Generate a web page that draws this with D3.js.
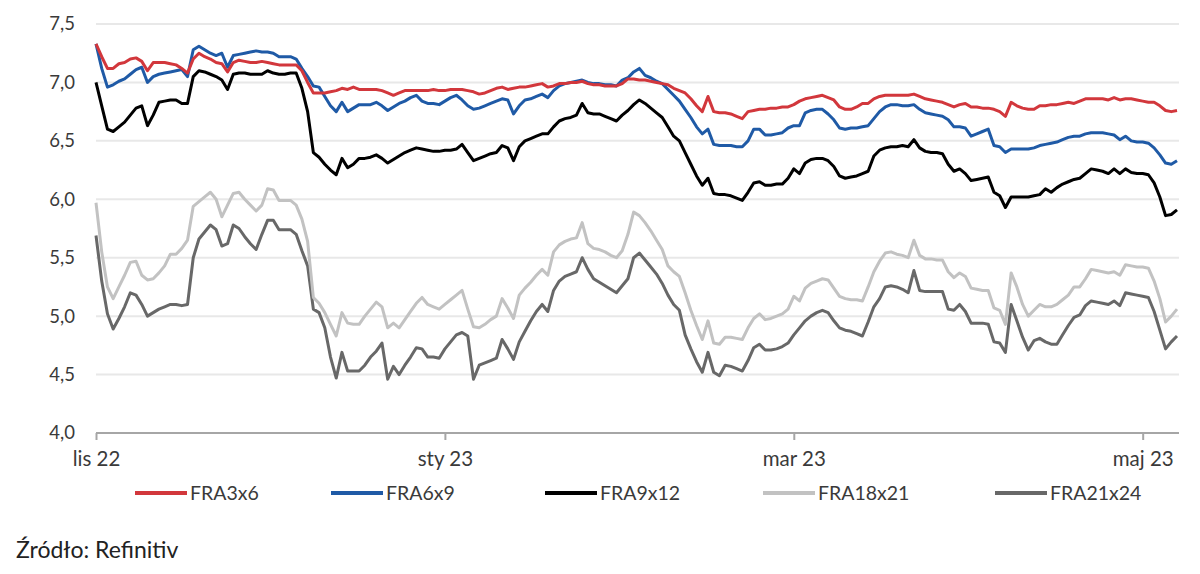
<!DOCTYPE html>
<html>
<head>
<meta charset="utf-8">
<script src="https://cdn.jsdelivr.net/npm/d3@7"></script>
<style>
  html, body { margin: 0; padding: 0; background: #fff; }
  svg { display: block; font-family: Lato, "Open Sans", sans-serif; }
</style>
</head>
<body>
<svg id="chart" width="1200" height="574"></svg>
<script>
// ---- data ----
const startDate = new Date(2022, 10, 1);   // daily categories from 1 Nov 2022
const endDate = new Date(2023, 4, 10);     // through 9 May 2023
const tickLabels = ["lis 22", "sty 23", "mar 23", "maj 23"];
const tickEvery = 61;
const yTicks = [4.0, 4.5, 5.0, 5.5, 6.0, 6.5, 7.0, 7.5];
const seriesNames = ["FRA3x6", "FRA6x9", "FRA9x12", "FRA18x21", "FRA21x24"];

const fra3x6 = [
7.33,7.22,7.12,7.12,7.16,7.17,7.20,7.21,7.18,7.10,7.17,7.17,7.17,7.16,7.15,7.12,7.08,7.20,7.25,7.22,7.20,7.17,7.16,7.09,7.17,7.19,7.18,7.17,7.17,7.18,7.17,7.16,7.15,7.15,7.15,7.15,7.10,7.00,6.91,6.91,6.91,6.92,6.93,6.95,6.94,6.96,6.94,6.94,
6.94,6.94,6.93,6.91,6.89,6.91,6.93,6.93,6.93,6.93,6.93,6.94,6.93,6.93,6.94,6.94,6.94,6.93,6.92,6.90,6.91,6.93,6.95,6.96,6.94,6.95,6.96,6.96,6.97,6.98,6.99,6.96,6.97,6.99,6.99,7.00,7.00,7.01,6.99,6.98,6.98,6.97,6.97,6.97,6.99,7.03,7.03,7.02,
7.02,7.01,7.00,6.99,6.98,6.95,6.93,6.91,6.86,6.80,6.75,6.88,6.75,6.74,6.74,6.73,6.71,6.69,6.75,6.76,6.77,6.77,6.78,6.78,6.79,6.79,6.81,6.84,6.86,6.87,6.88,6.89,6.87,6.85,6.79,6.77,6.77,6.79,6.82,6.82,6.86,6.88,6.89,6.89,6.89,6.89,6.89,6.90,6.88,6.86,6.85,6.84,6.83,6.81,6.79,6.81,6.82,6.79,6.79,6.78,6.78,6.77,6.75,6.71,6.83,6.80,6.78,6.77,6.77,6.80,6.80,6.81,6.81,6.82,6.83,6.82,6.84,6.86,6.86,6.86,6.86,6.85,6.87,6.85,6.86,6.86,6.85,6.84,6.83,6.83,6.80,6.76,6.75,6.76];

const fra6x9 = [
7.33,7.12,6.96,6.98,7.01,7.03,7.07,7.11,7.13,7.00,7.05,7.07,7.08,7.09,7.10,7.11,7.05,7.28,7.31,7.28,7.25,7.23,7.25,7.13,7.23,7.24,7.25,7.26,7.27,7.26,7.26,7.25,7.22,7.22,7.22,7.20,7.12,7.05,6.97,6.96,6.88,6.80,6.75,6.83,6.75,6.78,6.81,6.81,
6.81,6.83,6.80,6.76,6.79,6.82,6.84,6.87,6.89,6.84,6.82,6.82,6.81,6.84,6.87,6.89,6.85,6.80,6.77,6.78,6.80,6.82,6.84,6.86,6.85,6.73,6.80,6.85,6.86,6.88,6.90,6.87,6.93,6.97,6.99,7.00,7.01,7.02,7.00,6.99,6.99,6.98,6.98,6.97,7.02,7.04,7.09,7.12,
7.06,7.04,7.01,6.99,6.94,6.89,6.84,6.77,6.70,6.62,6.56,6.60,6.47,6.46,6.46,6.46,6.45,6.45,6.50,6.60,6.60,6.55,6.55,6.56,6.57,6.61,6.63,6.63,6.74,6.76,6.77,6.77,6.73,6.68,6.61,6.60,6.61,6.61,6.62,6.63,6.69,6.75,6.79,6.81,6.81,6.80,6.80,6.81,6.77,6.74,6.73,6.72,6.71,6.68,6.62,6.62,6.61,6.54,6.56,6.58,6.60,6.46,6.45,6.40,6.43,6.43,6.43,6.43,6.44,6.46,6.47,6.48,6.49,6.51,6.53,6.54,6.54,6.56,6.57,6.57,6.57,6.56,6.55,6.51,6.54,6.50,6.49,6.49,6.48,6.44,6.38,6.31,6.30,6.33];

const fra9x12 = [
7.00,6.80,6.60,6.58,6.62,6.66,6.72,6.78,6.80,6.63,6.72,6.83,6.84,6.85,6.85,6.82,6.82,7.05,7.10,7.09,7.07,7.05,7.02,6.94,7.07,7.08,7.08,7.07,7.07,7.07,7.10,7.08,7.07,7.07,7.08,7.08,6.95,6.75,6.40,6.36,6.30,6.25,6.21,6.35,6.27,6.30,6.35,6.35,
6.36,6.38,6.35,6.31,6.34,6.37,6.40,6.42,6.44,6.43,6.42,6.41,6.41,6.42,6.42,6.43,6.47,6.40,6.33,6.35,6.37,6.39,6.40,6.46,6.44,6.33,6.45,6.50,6.52,6.54,6.56,6.56,6.62,6.67,6.69,6.70,6.72,6.82,6.74,6.73,6.73,6.71,6.69,6.67,6.72,6.76,6.81,6.85,
6.82,6.78,6.74,6.70,6.62,6.54,6.50,6.40,6.30,6.20,6.12,6.18,6.05,6.04,6.04,6.03,6.01,5.99,6.06,6.14,6.15,6.12,6.12,6.13,6.13,6.18,6.26,6.22,6.31,6.34,6.35,6.35,6.33,6.28,6.20,6.18,6.19,6.20,6.22,6.24,6.37,6.42,6.44,6.45,6.45,6.46,6.45,6.51,6.44,6.41,6.40,6.40,6.39,6.30,6.24,6.26,6.22,6.16,6.17,6.18,6.19,6.06,6.03,5.93,6.02,6.02,6.02,6.02,6.03,6.04,6.09,6.06,6.10,6.13,6.15,6.17,6.18,6.22,6.26,6.25,6.24,6.22,6.26,6.22,6.26,6.23,6.22,6.22,6.21,6.14,6.02,5.86,5.87,5.91];

const fra18x21 = [
5.97,5.55,5.25,5.15,5.25,5.35,5.46,5.47,5.35,5.31,5.32,5.37,5.43,5.53,5.53,5.58,5.65,5.94,5.98,6.02,6.06,6.00,5.85,5.95,6.05,6.06,6.00,5.95,5.90,5.95,6.09,6.08,5.99,5.99,5.99,5.95,5.83,5.64,5.16,5.11,5.03,4.93,4.83,5.03,4.94,4.93,4.93,5.00,
5.06,5.12,5.08,4.90,4.94,4.90,4.97,5.04,5.11,5.16,5.10,5.08,5.06,5.10,5.14,5.18,5.22,5.06,4.91,4.90,4.93,4.97,5.00,5.15,5.07,4.98,5.18,5.24,5.29,5.35,5.40,5.35,5.55,5.61,5.64,5.66,5.67,5.80,5.62,5.58,5.57,5.55,5.52,5.50,5.56,5.70,5.89,5.86,
5.80,5.73,5.65,5.57,5.43,5.38,5.34,5.20,5.05,4.92,4.80,4.96,4.77,4.76,4.82,4.82,4.81,4.80,4.90,4.98,5.02,4.97,4.98,5.00,5.02,5.06,5.17,5.13,5.24,5.28,5.30,5.32,5.31,5.24,5.17,5.15,5.14,5.14,5.13,5.25,5.38,5.47,5.54,5.55,5.53,5.52,5.50,5.65,5.52,5.49,5.49,5.48,5.48,5.38,5.33,5.37,5.34,5.24,5.23,5.22,5.22,5.07,5.05,4.93,5.37,5.25,5.10,5.00,5.05,5.10,5.08,5.08,5.10,5.14,5.18,5.25,5.25,5.32,5.40,5.39,5.38,5.37,5.38,5.35,5.44,5.43,5.42,5.42,5.41,5.30,5.15,4.95,5.00,5.06];

const fra21x24 = [
5.69,5.30,5.02,4.89,4.98,5.08,5.20,5.18,5.10,5.00,5.03,5.06,5.08,5.10,5.10,5.09,5.10,5.50,5.66,5.72,5.78,5.74,5.60,5.62,5.78,5.75,5.68,5.62,5.57,5.70,5.82,5.82,5.74,5.74,5.74,5.70,5.56,5.43,5.06,5.03,4.90,4.65,4.47,4.69,4.53,4.53,4.53,4.58,
4.65,4.70,4.77,4.46,4.57,4.50,4.58,4.65,4.73,4.72,4.65,4.65,4.64,4.72,4.78,4.84,4.86,4.83,4.46,4.58,4.60,4.62,4.64,4.80,4.72,4.63,4.78,4.87,4.96,5.04,5.10,5.04,5.22,5.30,5.34,5.36,5.38,5.50,5.40,5.32,5.29,5.26,5.23,5.20,5.26,5.32,5.50,5.54,
5.48,5.42,5.36,5.28,5.18,5.10,5.05,4.84,4.72,4.61,4.52,4.69,4.52,4.49,4.58,4.57,4.55,4.53,4.62,4.73,4.76,4.71,4.71,4.72,4.74,4.77,4.84,4.90,4.96,5.00,5.03,5.05,5.03,4.96,4.90,4.88,4.87,4.85,4.83,4.95,5.08,5.15,5.25,5.26,5.25,5.23,5.20,5.39,5.22,5.21,5.21,5.21,5.21,5.06,5.05,5.10,5.04,4.94,4.94,4.94,4.93,4.78,4.77,4.69,5.10,4.96,4.82,4.71,4.79,4.81,4.78,4.76,4.76,4.84,4.92,4.99,5.01,5.09,5.13,5.12,5.11,5.10,5.13,5.09,5.20,5.19,5.18,5.17,5.16,5.04,4.88,4.72,4.78,4.83];

const seriesColors = ["#d2373c", "#1f5aa6", "#000000", "#c2c2c2", "#686868"];

// ---- chart ----
const days = d3.timeDay.range(startDate, endDate);
const svg = d3.select("#chart");
const margin = { left: 96, right: 1177, top: 24, bottom: 433 };

const x = d3.scaleLinear().domain([0, days.length - 1]).range([margin.left, margin.right]);
const y = d3.scaleLinear().domain([4.0, 7.5]).range([margin.bottom, margin.top]);
const fmt = v => d3.format(".1f")(v).replace(".", ",");

// gridlines
svg.append("g")
  .selectAll("line")
  .data(yTicks.filter(v => v > 4.0))
  .join("line")
  .attr("x1", margin.left).attr("x2", margin.right + 2)
  .attr("y1", d => y(d)).attr("y2", d => y(d))
  .attr("stroke", "#e8e8e8").attr("stroke-width", 2);

// y axis labels
const yAxis = d3.axisLeft(y).tickValues(yTicks).tickFormat(fmt).tickSize(0).tickPadding(21);
const gy = svg.append("g").attr("transform", `translate(${margin.left},0)`).call(yAxis);
gy.select(".domain").remove();
gy.selectAll("text").attr("font-size", 18.5).attr("fill", "#3a3a3a")
  .attr("font-family", "Lato, 'Open Sans', sans-serif");

// x axis
const tickIdx = tickLabels.map((_, k) => k * tickEvery);
const xAxis = d3.axisBottom(x).tickValues(tickIdx)
  .tickFormat((d, k) => tickLabels[k]).tickSize(7).tickPadding(11).tickSizeOuter(0);
const gx = svg.append("g").attr("transform", `translate(0,${margin.bottom})`).call(xAxis);
gx.select(".domain").attr("stroke", "#a6a6a6").attr("stroke-width", 2)
  .attr("d", `M${margin.left},0H${margin.right + 2}`);
gx.selectAll(".tick line").attr("stroke", "#a6a6a6").attr("stroke-width", 2);
gx.selectAll("text").attr("font-size", 20.5).attr("fill", "#3a3a3a")
  .attr("font-family", "Lato, 'Open Sans', sans-serif");

// lines
const allSeries = [fra3x6, fra6x9, fra9x12, fra18x21, fra21x24];
const line = d3.line().x((d, i) => x(i)).y(d => y(d)).curve(d3.curveLinear);
const drawOrder = [4, 3, 2, 1, 0];
svg.append("g").selectAll("path")
  .data(drawOrder)
  .join("path")
  .attr("d", k => line(allSeries[k]))
  .attr("fill", "none")
  .attr("stroke", k => seriesColors[k])
  .attr("stroke-width", 3)
  .attr("stroke-linejoin", "round");

// legend
const legendX = [135, 331, 545, 763, 995];
const legend = svg.append("g");
seriesNames.forEach((name, k) => {
  const g = legend.append("g").attr("transform", `translate(${legendX[k]},493)`);
  g.append("line").attr("x1", 0).attr("x2", 52).attr("y1", 0).attr("y2", 0)
    .attr("stroke", seriesColors[k]).attr("stroke-width", 4);
  g.append("text").attr("x", 55).attr("y", 0).attr("dy", "0.35em")
    .attr("font-size", 19.5).attr("fill", "#3a3a3a").text(name);
});

// source
svg.append("text").attr("x", 16).attr("y", 558)
  .attr("font-size", 23).attr("fill", "#222").text("Źródło: Refinitiv");
</script>
</body>
</html>
